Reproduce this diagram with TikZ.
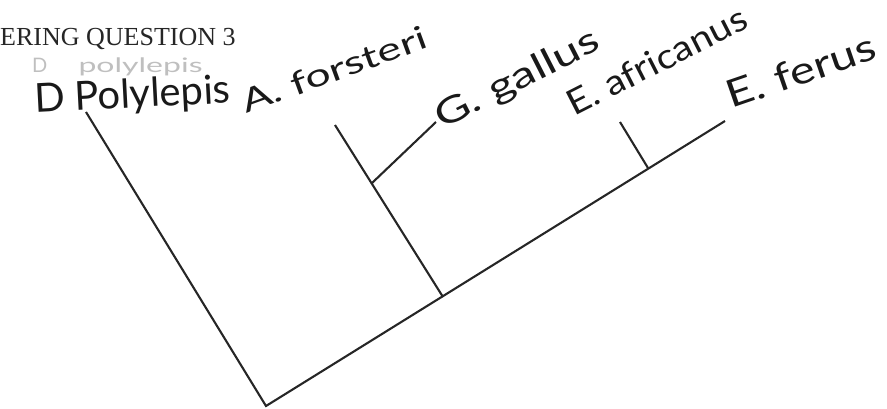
\documentclass[tikz,border=0pt]{standalone}
\usepackage{fontspec}
\setmainfont{Lato}
\newfontfamily\headfont{Liberation Serif}
\begin{document}
\begin{tikzpicture}[x=1pt,y=-1pt,
  branch/.style={draw=black!85, line width=2.1pt},
  hand/.style={font=\fontsize{34}{34}\selectfont, text=black!90, inner sep=0pt, anchor=base west},
]
\useasboundingbox (0,0) rectangle (887,408);
% heading
\node[font=\headfont\fontsize{26}{26}\selectfont, anchor=base west, inner sep=0pt, text=black!85] (head) at (0,45) {ERING QUESTION 3};
\node[font=\fontsize{20}{20}\selectfont, anchor=base west, inner sep=0pt, text=black!25] (ghost) at (32,72) {D \hspace{1.3em}\scalebox{1.6}[1]{polylepis}};
% labels
\node[hand, font=\fontsize{40}{40}\selectfont, rotate=3] (lD) at (35,113) {D Polylepis};
\node[hand, font=\fontsize{32}{32}\selectfont, rotate=20] (lA) at (246,114) {\scalebox{1.4}[1]{A. forsteri}};
\node[hand, font=\fontsize{36}{36}\selectfont, rotate=27] (lG) at (442,130) {\scalebox{1.35}[1]{G. gallus}};
\node[hand, font=\fontsize{35}{35}\selectfont, rotate=27] (lEa) at (574,117) {\scalebox{1.12}[1]{E. africanus}};
\node[hand, font=\fontsize{38}{38}\selectfont, rotate=19] (lEf) at (731,109) {\scalebox{1.25}[1]{E. ferus}};
% tree points
\coordinate (root) at (266,406);
\coordinate (dtip) at (86,112);
\coordinate (ftip) at (725,121);
\coordinate (anode) at (443,297);
\coordinate (atip) at (335,125);
\coordinate (gnode) at (372,183);
\coordinate (gtip) at (436,122);
\coordinate (enode) at (648,168);
\coordinate (etip) at (620,122);
% branches
\draw[branch] (dtip) -- (root) -- (ftip);
\draw[branch] (atip) -- (anode);
\draw[branch] (gnode) -- (gtip);
\draw[branch] (etip) -- (enode);
\end{tikzpicture}
\end{document}
